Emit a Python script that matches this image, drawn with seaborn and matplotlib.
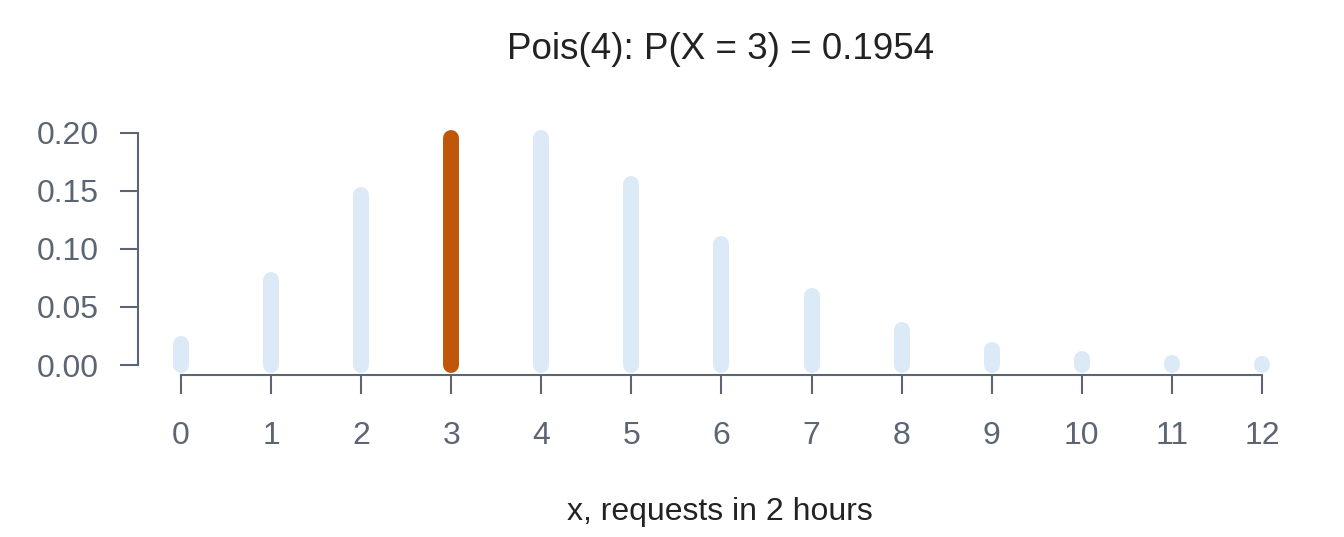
import numpy as np
import pandas as pd
import matplotlib
matplotlib.use("Agg")
import matplotlib.pyplot as plt
import seaborn as sns

# pmf de Pois(4)
x_vals = [0, 1, 2, 3, 4, 5, 6, 7, 8, 9, 10, 11, 12]
probs = [0.0183, 0.0733, 0.1465, 0.1954, 0.1954, 0.1563, 0.1042,
         0.0595, 0.0298, 0.0132, 0.0053, 0.0019, 0.0006]
destacado = 3
y_ticks = [0.00, 0.05, 0.10, 0.15, 0.20]

df = pd.DataFrame({"x": x_vals, "p": probs})
df["color"] = np.where(df["x"] == destacado, "#c0560a", "#dce9f7")

sns.set_style("ticks")
plt.rcParams['font.family'] = ['Liberation Sans', 'DejaVu Sans']

gris = "#5b6573"

fig = plt.figure(figsize=(13.44, 5.37), dpi=100)
ax = fig.add_axes([138 / 1344, 0.3017, (1316 - 138) / 1344, 0.774 - 0.3017])

ax.vlines(df["x"], 0, df["p"], colors=df["color"], linewidth=11.5,
          capstyle="round", zorder=3)

ax.set_xlim(-0.477, 12.6)
ax.set_ylim(-0.0086, 0.21)

ax.set_xticks(x_vals)
ax.set_yticks(y_ticks, labels=[f"{t:.2f}" for t in y_ticks])

sns.despine(ax=ax)
ax.spines["left"].set_bounds(0, 0.2)
ax.spines["bottom"].set_bounds(0, 12)
for s in ["left", "bottom"]:
    ax.spines[s].set_color(gris)
    ax.spines[s].set_linewidth(1.5)

ax.tick_params(axis="both", colors=gris, labelcolor=gris, width=1.5,
               labelsize=23)
ax.tick_params(axis="y", length=13, pad=15)
ax.tick_params(axis="x", length=14, pad=19)

ax.set_xlabel("x, requests in 2 hours", fontsize=23, color="#222222",
              va="center")
ax.xaxis.set_label_coords(0.494, -0.54)
fig.suptitle("Pois(4): P(X = 3) = 0.1954", fontsize=26.5, color="#222222",
             x=721 / 1344, y=0.907, va="center")

fig.savefig("out.png", dpi=100, facecolor="white")
